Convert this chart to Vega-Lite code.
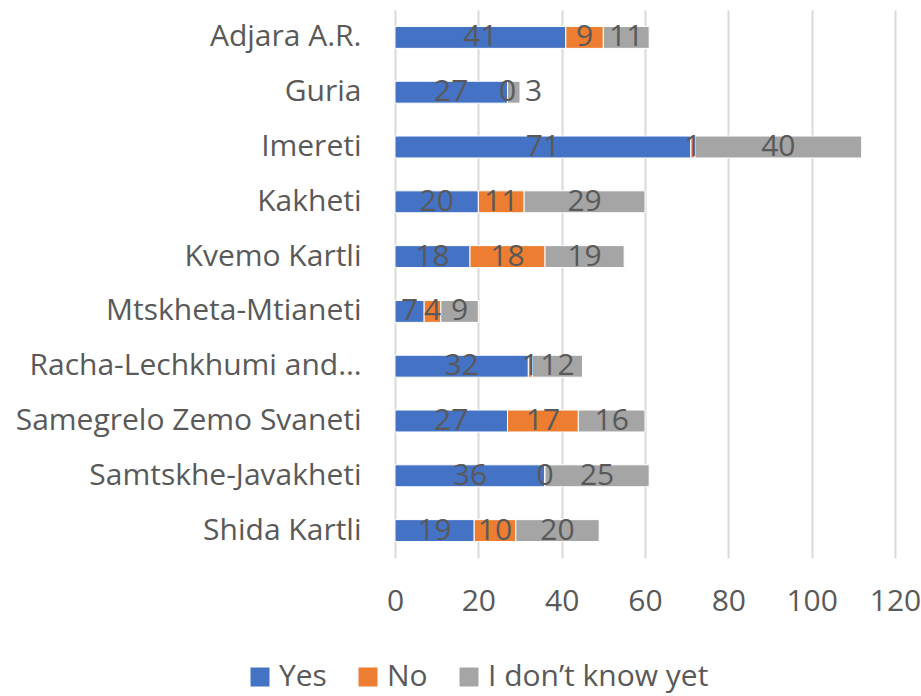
{
  "$schema": "https://vega.github.io/schema/vega-lite/v6.json",
  "width": 500,
  "height": 548,
  "autosize": "none",
  "padding": {"left": 395, "top": 10, "right": 26, "bottom": 138},
  "background": "white",
  "config": {"view": {"stroke": null}, "font": "Open Sans"},
  "data": {"values": [
    {"region": "Adjara A.R.", "answer": "Yes", "value": 41},
    {"region": "Adjara A.R.", "answer": "No", "value": 9},
    {"region": "Adjara A.R.", "answer": "I don’t know yet", "value": 11},
    {"region": "Guria", "answer": "Yes", "value": 27},
    {"region": "Guria", "answer": "No", "value": 0},
    {"region": "Guria", "answer": "I don’t know yet", "value": 3},
    {"region": "Imereti", "answer": "Yes", "value": 71},
    {"region": "Imereti", "answer": "No", "value": 1},
    {"region": "Imereti", "answer": "I don’t know yet", "value": 40},
    {"region": "Kakheti", "answer": "Yes", "value": 20},
    {"region": "Kakheti", "answer": "No", "value": 11},
    {"region": "Kakheti", "answer": "I don’t know yet", "value": 29},
    {"region": "Kvemo Kartli", "answer": "Yes", "value": 18},
    {"region": "Kvemo Kartli", "answer": "No", "value": 18},
    {"region": "Kvemo Kartli", "answer": "I don’t know yet", "value": 19},
    {"region": "Mtskheta-Mtianeti", "answer": "Yes", "value": 7},
    {"region": "Mtskheta-Mtianeti", "answer": "No", "value": 4},
    {"region": "Mtskheta-Mtianeti", "answer": "I don’t know yet", "value": 9},
    {"region": "Racha-Lechkhumi and…", "answer": "Yes", "value": 32},
    {"region": "Racha-Lechkhumi and…", "answer": "No", "value": 1},
    {"region": "Racha-Lechkhumi and…", "answer": "I don’t know yet", "value": 12},
    {"region": "Samegrelo Zemo Svaneti", "answer": "Yes", "value": 27},
    {"region": "Samegrelo Zemo Svaneti", "answer": "No", "value": 17},
    {"region": "Samegrelo Zemo Svaneti", "answer": "I don’t know yet", "value": 16},
    {"region": "Samtskhe-Javakheti", "answer": "Yes", "value": 36},
    {"region": "Samtskhe-Javakheti", "answer": "No", "value": 0},
    {"region": "Samtskhe-Javakheti", "answer": "I don’t know yet", "value": 25},
    {"region": "Shida Kartli", "answer": "Yes", "value": 19},
    {"region": "Shida Kartli", "answer": "No", "value": 10},
    {"region": "Shida Kartli", "answer": "I don’t know yet", "value": 20}
  ]},
  "transform": [
    {"stack": "value", "groupby": ["region"], "sort": [{"field": "answer", "order": "descending"}], "as": ["v0", "v1"]},
    {"calculate": "(datum.v0 + datum.v1) / 2", "as": "mid"}
  ],
  "encoding": {
    "y": {
      "field": "region", "type": "nominal",
      "sort": ["Adjara A.R.", "Guria", "Imereti", "Kakheti", "Kvemo Kartli", "Mtskheta-Mtianeti", "Racha-Lechkhumi and…", "Samegrelo Zemo Svaneti", "Samtskhe-Javakheti", "Shida Kartli"],
      "scale": {"paddingInner": 0.6, "paddingOuter": 0.3},
      "axis": {"title": null, "domain": false, "ticks": false, "labelFontSize": 30, "labelColor": "#595959", "labelPadding": 34, "labelLimit": 400}
    }
  },
  "layer": [
    {
      "mark": {"type": "bar", "stroke": "white", "strokeWidth": 1},
      "encoding": {
        "x": {"field": "v0", "type": "quantitative", "scale": {"domain": [0, 120], "nice": false},
          "axis": {"title": null, "values": [0, 20, 40, 60, 80, 100, 120], "domain": false, "ticks": false, "grid": true, "gridColor": "#d9d9d9", "gridWidth": 2, "labelFontSize": 30, "labelColor": "#595959", "labelPadding": 28, "labelFlush": false}},
        "x2": {"field": "v1"},
        "color": {"field": "answer", "type": "nominal",
          "scale": {"domain": ["Yes", "No", "I don’t know yet"], "range": ["#4472C4", "#ED7D31", "#A5A5A5"]},
          "legend": {"title": null, "orient": "none", "legendX": -150, "legendY": 652, "direction": "horizontal", "symbolType": "square", "symbolSize": 361, "symbolStrokeWidth": 0, "labelFontSize": 30, "labelColor": "#595959", "columnPadding": 26, "labelOffset": 4, "labelLimit": 400}}
      }
    },
    {
      "transform": [{"filter": "!(datum.answer === 'I don’t know yet' && datum.value < 5)"}],
      "mark": {"type": "text", "fontSize": 30, "color": "#595959"},
      "encoding": {
        "x": {"field": "mid", "type": "quantitative"},
        "text": {"field": "value", "type": "quantitative"}
      }
    },
    {
      "transform": [{"filter": "datum.answer === 'I don’t know yet' && datum.value < 5"}],
      "mark": {"type": "text", "fontSize": 30, "color": "#595959", "align": "left", "dx": 5},
      "encoding": {
        "x": {"field": "v1", "type": "quantitative"},
        "text": {"field": "value", "type": "quantitative"}
      }
    }
  ]
}
